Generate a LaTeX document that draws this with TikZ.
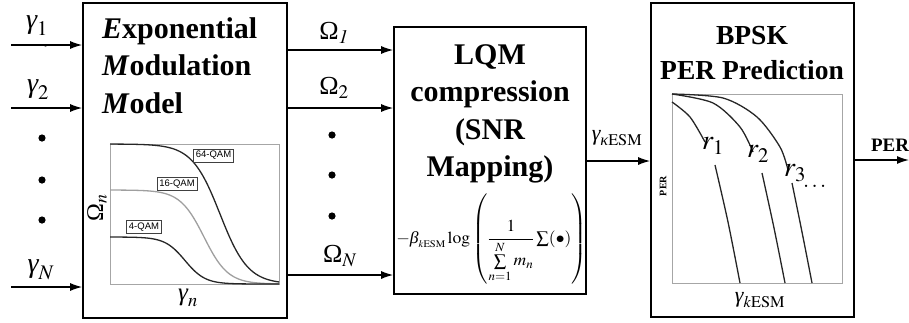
\documentclass[tikz,border=0pt]{standalone}
\usepackage{amsmath}
\usepackage{graphicx}
\usepackage{mathptmx}
\usepackage{fontspec}
\setmainfont{Liberation Serif}
\newfontfamily\qamfont{Liberation Sans}
\usetikzlibrary{arrows.meta}
\newcommand{\gm}{\text{\itshape γ}}
\newcommand{\gk}{\text{\itshape κ}}
\newcommand{\bt}{\text{\itshape β}}
\newcommand{\Om}{\text{Ω}}
\tikzset{
  blk/.style={draw, line width=1.6pt, inner sep=0pt},
  con/.style={->, line width=1.4pt},
  lbl/.style={font=\fontsize{28}{28}\selectfont, inner sep=0pt},
  ttl/.style={font=\bfseries\fontsize{30}{37.5}\selectfont, inner sep=0pt},
  qam/.style={draw=black!75, fill=white, line width=0.6pt, inner xsep=2.5pt, inner ysep=2.3pt,
    font=\qamfont\fontsize{9.5}{9.5}\selectfont},
  frame/.style={draw=gray!70, line width=0.8pt},
  crv/.style={black!85, line width=1.3pt},
}

\begin{document}
\begin{tikzpicture}[x=1pt, y=-1pt, >={Latex[length=12pt,width=8pt]}]
\useasboundingbox (0,0) rectangle (909,322);

% blocks
\node[blk, minimum width=204pt, minimum height=315pt] (emm) at (185,160.5) {};
\node[blk, minimum width=192pt, minimum height=267pt] (lqm) at (490,160.5) {};
\node[blk, minimum width=203pt, minimum height=314pt] (per) at (752.5,160) {};

% titles
\node[ttl, anchor=north west, align=left] (emmtxt) at (102,17) {\textit{E}xponential\\\textit{M}odulation\\\textit{M}odel};
\node[ttl, anchor=north, align=center] (lqmtxt) at (490,44) {LQM\\compression\\(SNR\\Mapping)};
\node[ttl, font=\bfseries\fontsize{27.5}{35}\selectfont, anchor=north, align=center] (pertxt) at (752,26) {BPSK\\PER Prediction};

% inputs
\coordinate (g1) at (11,45);
\coordinate (g2) at (11,108);
\coordinate (gN) at (11,287);
\draw[con] (g1) -- (g1 -| emm.west);
\draw[con] (g2) -- (g2 -| emm.west);
\draw[con] (gN) -- (gN -| emm.west);
\node[lbl] (lg1) at (37,26) {$\gm_1$};
\node[lbl] (lg2) at (38,90) {$\gm_2$};
\node[lbl] (lgN) at (41,270) {$\gm_N$};
\node[font=\fontsize{5}{5}\selectfont, inner sep=0pt] (eps) at (46,46.5) {$\epsilon$};
\foreach \y in {138,180,220} \fill (42,\y) circle (3.6pt);

% model curves
\draw[frame] (110,144) rectangle (279,284);
\draw[gray!75, line width=1.3pt, domain=110:279, samples=80, smooth] plot (\x, {190+94/(1+exp(-(\x-204)/12))});
\draw[crv, domain=110:279, samples=80, smooth] plot (\x, {144+140/(1+exp(-(\x-220)/14))});
\draw[crv, domain=110:279, samples=80, smooth] plot (\x, {237+47/(1+exp(-(\x-185)/10))});
\node[qam] (q64) at (213.5,155.5) {64-QAM};
\node[qam] (q16) at (177,184) {16-QAM};
\node[qam] (q4) at (144,227) {4-QAM};
\node[lbl, font=\fontsize{24}{24}\selectfont, rotate=90] (omn) at (97,208) {$\Om_n$};
\node[lbl, font=\fontsize{25}{25}\selectfont] (gmn) at (188,298) {$\gm_n$};

% omega outputs
\coordinate (o1) at (0,50);
\coordinate (o2) at (0,108);
\coordinate (oN) at (0,275);
\draw[con] (emm.east |- o1) -- (lqm.west |- o1);
\draw[con] (emm.east |- o2) -- (lqm.west |- o2);
\draw[con] (emm.east |- oN) -- (lqm.west |- oN);
\node[lbl, font=\fontsize{26}{26}\selectfont] (lo1) at (334,33) {$\Om_{\mathit{1}}$};
\node[lbl, font=\fontsize{26}{26}\selectfont] (lo2) at (334,88) {$\Om_2$};
\node[lbl, font=\fontsize{26}{26}\selectfont] (loN) at (340,256) {$\Om_N$};
\foreach \y in {135,175,216} \fill (332,\y) circle (3.6pt);

% mapping
\node[font=\fontsize{18.5}{20}\selectfont, inner sep=0pt] (fml) at (491.5,239)
  {\scalebox{0.95}[0.91]{$\displaystyle -\bt_{\scriptscriptstyle k\mathrm{ESM}}\log\left(\frac{1}{\sum\limits_{n=1}^{N} m_n}\textstyle\sum(\bullet)\right)$}};

% esm link
\coordinate (e) at (0,161);
\draw[con] (lqm.east |- e) -- (per.west |- e);
\node[lbl, font=\fontsize{22}{22}\selectfont] (le) at (617,138) {$\gm_{\gk\mathrm{ESM}}$};

% per curves
\draw[frame] (672,94) rectangle (842,283);
\draw[crv] plot[smooth] coordinates {(672,102) (690,117) (705,142)};
\draw[crv] plot[smooth] coordinates {(715,165) (728,222) (740,283)};
\draw[crv] plot[smooth] coordinates {(672,94) (713,103) (740,127) (753,152)};
\draw[crv] plot[smooth] coordinates {(762,173) (774,228) (785,283)};
\draw[crv] plot[smooth] coordinates {(672,94) (723,98) (757,117) (780,147) (788,170)};
\draw[crv] plot[smooth] coordinates {(792,183) (802,232) (812,283)};
\node[lbl] (r1) at (713,146) {$r_1$};
\node[lbl] (r2) at (758,154) {$r_2$};
\node[lbl] (r3) at (795,173) {$r_3$};
\node[lbl, font=\fontsize{22}{22}\selectfont] (rdots) at (816,186) {$\dots$};
\node[font=\bfseries\fontsize{10}{10}\selectfont, rotate=90, inner sep=0pt] (pery) at (663,186) {PER};
\node[lbl, font=\fontsize{22}{22}\selectfont] (gx) at (760,300) {$\gm_{k\mathrm{ESM}}$};

% output
\coordinate (out) at (909,160);
\draw[con] (per.east |- out) -- (out);
\node[font=\bfseries\fontsize{19}{19}\selectfont, inner sep=0pt] (lper) at (890,145) {PER};
\end{tikzpicture}
\end{document}
